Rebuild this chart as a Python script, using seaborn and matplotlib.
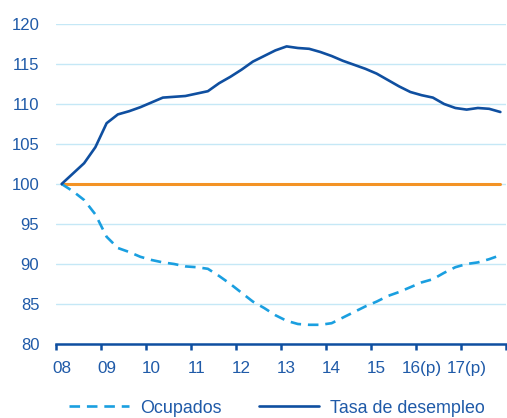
import numpy as np
import pandas as pd
import matplotlib
matplotlib.use("Agg")
import matplotlib.pyplot as plt
import seaborn as sns
from matplotlib.lines import Line2D

# Quarterly index values, 2008Q1..2017Q4
tasa_desempleo = [100.0, 101.3, 102.6, 104.6, 107.6, 108.7, 109.1, 109.6, 110.2, 110.8,
                  110.9, 111.0, 111.3, 111.6, 112.6, 113.4, 114.3, 115.3, 116.0, 116.7,
                  117.2, 117.0, 116.9, 116.5, 116.0, 115.4, 114.9, 114.4, 113.8, 113.0,
                  112.2, 111.5, 111.1, 110.8, 110.0, 109.5, 109.3, 109.5, 109.4, 109.0]
ocupados = [100.0, 99.1, 98.0, 96.2, 93.4, 92.0, 91.5, 90.9, 90.5, 90.2,
            90.0, 89.7, 89.6, 89.4, 88.5, 87.5, 86.4, 85.3, 84.5, 83.6,
            82.9, 82.5, 82.4, 82.4, 82.6, 83.3, 84.0, 84.7, 85.3, 86.0,
            86.5, 87.1, 87.7, 88.1, 88.9, 89.6, 90.0, 90.2, 90.6, 91.1]
base = [100.0] * 40
year_labels = ["08", "09", "10", "11", "12", "13", "14", "15", "16(p)", "17(p)"]
yticks = [80, 85, 90, 95, 100, 105, 110, 115, 120]

sns.set_theme(style="white")
plt.rcParams["font.family"] = ["Liberation Sans", "DejaVu Sans"]

txt_col = "#1f5aa8"
dark = "#0f4fa0"
light = "#1a9fe0"
orange = "#f39325"
grid_col = "#c5e8f6"

x = np.arange(len(tasa_desempleo)) + 0.5
df = pd.DataFrame({"x": x, "tasa": tasa_desempleo, "ocup": ocupados, "base": base})

fig = plt.figure(figsize=(5.07, 4.18), dpi=100)
ax = fig.add_axes([56/507, 1 - 344/418, 450/507, 320/418])

sns.lineplot(data=df, x="x", y="base", ax=ax, color=orange, linewidth=2.2, legend=False)
sns.lineplot(data=df, x="x", y="ocup", ax=ax, color=light, linewidth=1.9, legend=False)
sns.lineplot(data=df, x="x", y="tasa", ax=ax, color=dark, linewidth=1.9, legend=False)
lines = ax.get_lines()
lines[1].set_linestyle((0, (4, 2.6)))

ax.set_xlim(0, 40)
ax.set_ylim(80, 120)
ax.set_xlabel("")
ax.set_ylabel("")

ax.set_yticks(yticks)
ax.set_yticklabels([str(v) for v in yticks])
ax.yaxis.grid(True, color=grid_col, linewidth=1.0)
ax.set_axisbelow(True)
ax.tick_params(axis="y", left=False, length=0, pad=12, labelsize=12, labelcolor=txt_col)

ax.set_xticks(np.arange(0, 41, 4))
ax.set_xticklabels([])
ax.set_xticks(np.arange(0, 40, 4) + 0.5, minor=True)
ax.set_xticklabels(year_labels, minor=True)
ax.tick_params(axis="x", which="major", bottom=True, length=4.5, width=1.8, color=dark, direction="out")
ax.tick_params(axis="x", which="minor", bottom=True, length=0, pad=12, labelsize=12.3, labelcolor=txt_col)

for s in ["left", "right", "top"]:
    ax.spines[s].set_visible(False)
ax.spines["bottom"].set_color(dark)
ax.spines["bottom"].set_linewidth(1.8)
ax.spines["bottom"].set_zorder(5)

handles = [Line2D([], [], color=light, linewidth=1.9, linestyle=(0, (4, 2.6))),
           Line2D([], [], color=dark, linewidth=1.9)]
leg = fig.legend(handles, ["Ocupados", "Tasa de desempleo"], loc="lower center",
                 bbox_to_anchor=(277/507, -0.035), ncol=2, frameon=False,
                 fontsize=12.9, handlelength=3.35, columnspacing=2.1, handletextpad=0.6)
for t in leg.get_texts():
    t.set_color(txt_col)

fig.savefig("out.png", dpi=100)
